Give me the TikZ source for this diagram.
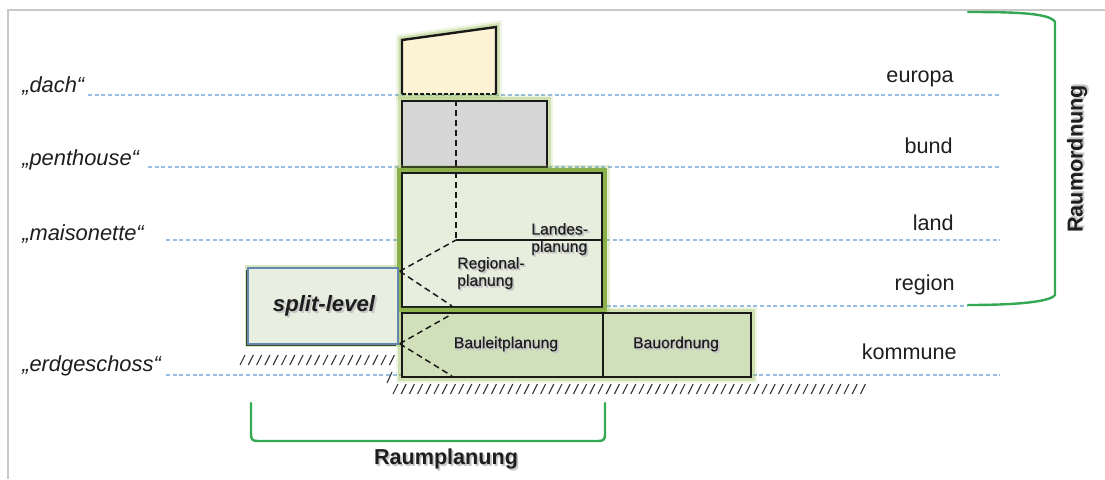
\documentclass[tikz,border=0pt]{standalone}
\usepackage{fontspec}
\setmainfont{Liberation Sans}
\newfontfamily\labelfont{Liberation Sans}[FakeBold=0.6]
\usetikzlibrary{fit,calc}

\definecolor{txt}{RGB}{30,30,30}
\definecolor{levelline}{RGB}{150,190,228}
\definecolor{framec}{RGB}{200,200,200}
\definecolor{roofc}{RGB}{252,242,212}
\definecolor{bundc}{RGB}{214,214,214}
\definecolor{landc}{RGB}{231,238,222}
\definecolor{kommc}{RGB}{208,224,186}
\definecolor{splitc}{RGB}{233,239,224}
\definecolor{splitblue}{RGB}{100,135,175}
\definecolor{splitdark}{RGB}{60,72,40}
\definecolor{glowc}{RGB}{150,188,80}
\definecolor{bandc}{RGB}{138,176,76}
\definecolor{bracec}{RGB}{52,168,83}

% text with a soft offset shadow
\newcommand{\shd}[1]{\leavevmode\rlap{\kern1.4pt\raisebox{-1.4pt}{\textcolor{black!22}{#1}}}\rlap{\kern0.8pt\raisebox{-0.8pt}{\textcolor{black!22}{#1}}}#1}

\begin{document}
\begin{tikzpicture}[x=0.75pt, y=-0.75pt, line join=miter,
  levelstyle/.style={draw=levelline, line width=0.8pt, dash pattern=on 3pt off 2pt},
  hatch/.style={draw=black!80, line width=0.8pt},
  glow/.style={preaction={draw=glowc, line width=9pt, draw opacity=.15},
               preaction={draw=glowc, line width=5.5pt, draw opacity=.35}},
  plainbox/.style={glow, draw=black!90, line width=1.8pt, inner sep=0pt},
  landbox/.style={preaction={draw=glowc, line width=12pt, draw opacity=.25},
                  preaction={draw=bandc, line width=7.5pt},
                  draw=black!90, line width=1.8pt, fill=landc, inner sep=0pt},
  cut/.style={draw=black!90, line width=1.1pt, dash pattern=on 4.5pt off 3pt},
  levelname/.style={font=\fontsize{16.2}{19}\selectfont, text=txt, inner sep=0pt, anchor=base east},
  floorname/.style={font=\itshape\fontsize{16.4}{19}\selectfont, text=txt, inner sep=0pt, anchor=base west},
  small/.style={font=\labelfont\fontsize{11.8}{13}\selectfont, text=txt, inner sep=0pt},
  big/.style={font=\bfseries\fontsize{16.2}{19}\selectfont, text=txt, inner sep=0pt},
  brace/.style={draw=bracec, line width=1.8pt, line cap=round}
]
\useasboundingbox (0,0) rectangle (1105,479);

% outer frame (top and left edge)
\draw[framec, line width=1.1pt] (8,479) -- (8,10) -- (1105,10);

% level lines
\draw[levelstyle] (88,95) -- (1000,95);
\draw[levelstyle] (148,167) -- (1000,167);
\draw[levelstyle] (166,240) -- (1000,240);
\draw[levelstyle] (380,306) -- (968,306);
\draw[levelstyle] (166,375) -- (1000,375);

% ground hatching
\foreach \i in {0,...,18} \draw[hatch] ({240+8.3*\i},365) -- ++(5,-10);
\draw[hatch] (387,383) -- ++(5,-11);
\foreach \i in {0,...,57} \draw[hatch] ({393+8.2*\i},394) -- ++(5,-10);

% roof (europa)
\coordinate (r1) at (402,94);
\coordinate (r2) at (402,40);
\coordinate (r3) at (496,27);
\coordinate (r4) at (496,94);
\fill[roofc, glow] (r1) -- (r2) -- (r3) -- (r4) -- cycle;
\draw[black!90, line width=1.8pt] (r1) -- (r2) -- (r3) -- (r4);
\draw[black!90, line width=1.5pt, dash pattern=on 3pt off 1.5pt] (r4) -- (r1);

% bund
\node[plainbox, fill=bundc, fit={(402,101)(547,167)}] (bund) {};

% land with regional level
\node[landbox, fit={(402,173)(602,307)}] (land) {};
\coordinate (lcorner) at (456,240);
\draw[black!90, line width=1.2pt] (lcorner) -- (land.east |- lcorner);
\draw[cut] (bund.north -| lcorner) -- (bund.south -| lcorner);
\draw[cut] (land.north -| lcorner) -- (lcorner);

% kommune
\node[plainbox, fill=kommc, fit={(402,313)(751,377)}] (kommune) {};
\coordinate (kdiv) at (603,0);
\draw[black!90, line width=1.5pt] (kommune.north -| kdiv) -- (kommune.south -| kdiv);

% split-level: dark shadow to the lower left, thin blue outline
\fill[glowc, opacity=.35] (245,265) rectangle (401,347);
\fill[splitdark] (246,270) rectangle (396,346);
\node[draw=splitblue, line width=1.1pt, fill=splitc, inner sep=0pt,
      fit={(248,268)(398,344)}] (split) {};

% connections of the split level
\coordinate (sne) at ($(split.north east)+(1,4)$);
\coordinate (sse) at ($(split.south east)+(1,-1)$);
\coordinate (lbot) at (452,306);
\coordinate (ktop) at (452,314);
\coordinate (kbot) at (452,376);
\draw[cut] (sne) -- (lcorner);
\draw[cut] (sne) -- (lbot);
\draw[cut] (sse) -- (ktop);
\draw[cut] (sse) -- (kbot);

% box labels
\node[small, align=left, anchor=west] (landes) at (531,240) {\shd{Landes-}\\\shd{planung}};
\node[small, align=left, anchor=west] (regional) at (457,274) {\shd{Regional-}\\\shd{planung}};
\node[small] (bauleit) at (506,345) {\shd{Bauleitplanung}};
\node[small] (bauord) at (676,345) {\shd{Bauordnung}};
\node[font=\bfseries\itshape\fontsize{16.6}{19}\selectfont, text=txt, inner sep=0pt] (splittxt) at (324,307) {\shd{split-level}};

% floor names
\node[floorname] (fdach) at (22,92) {„dach“};
\node[floorname] (fpent) at (22,165) {„penthouse“};
\node[floorname] (fmais) at (22,240) {„maisonette“};
\node[floorname] (ferd) at (22,371) {„erdgeschoss“};

% level names
\node[levelname] (neu) at (954,82) {europa};
\node[levelname] (nbund) at (953,153) {bund};
\node[levelname] (nland) at (954,230) {land};
\node[levelname] (nreg) at (955,290) {region};
\node[levelname] (nkomm) at (957,359) {kommune};

% braces
\coordinate (b1) at (968,12);
\coordinate (b2) at (1055,22);
\coordinate (b3) at (1055,295);
\coordinate (b4) at (968,305);
\draw[brace] (b1) .. controls (1015,12) and (1050,13) .. (b2) -- (b3) .. controls (1050,302) and (1015,305) .. (b4);
\node[big, rotate=90] (raumord) at (1078,159) {\shd{Raumordnung}};

\coordinate (c1) at (251,403);
\coordinate (c2) at (605,403);
\draw[brace] (c1) -- (251,434) .. controls (251,440) and (253,441) .. (258,441) -- (598,441) .. controls (603,441) and (605,440) .. (605,434) -- (c2);
\node[big] (raumplan) at (446,460) {\shd{Raumplanung}};
\end{tikzpicture}
\end{document}
